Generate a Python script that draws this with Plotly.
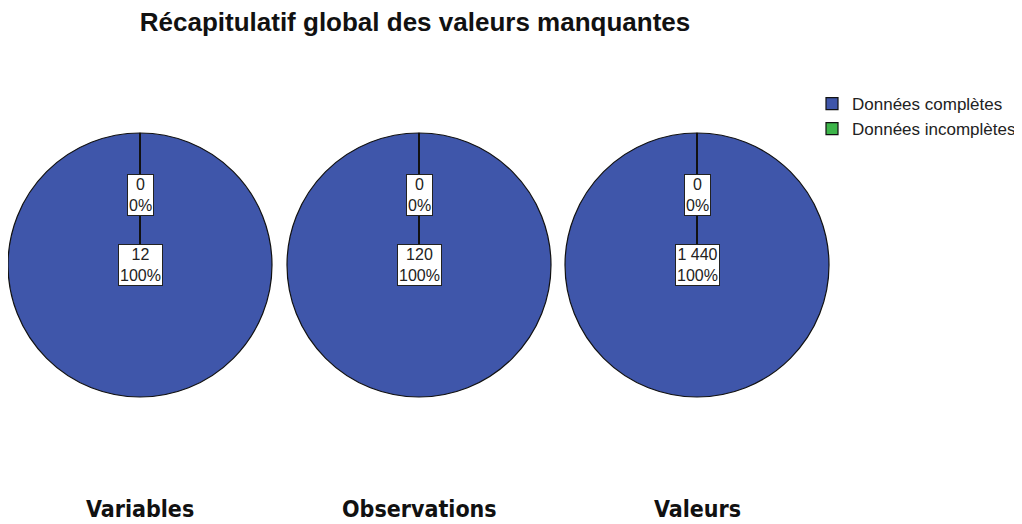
import plotly.graph_objects as go

title = "Récapitulatif global des valeurs manquantes"
groups = ["Variables", "Observations", "Valeurs"]
categories = ["Données complètes", "Données incomplètes"]
complete = [12, 120, 1440]
incomplete = [0, 0, 0]
colors = ["#3F56AA", "#3DB54A"]

W, H = 1022, 524
OFF = 8  # default page body margin
centers_px = [140, 419, 697]
cy_px = 265
r_px = 132

def px(x):
    return min(max((x - OFF) / W, 0), 1)

def py(y):
    return min(max(1 - (y - OFF) / H, 0), 1)

def fmt(v):
    return f"{v:,}".replace(",", " ")

fig = go.Figure()
for i, g in enumerate(groups):
    cx = centers_px[i]
    fig.add_trace(go.Pie(
        labels=categories,
        values=[complete[i], incomplete[i]],
        marker=dict(colors=colors, line=dict(color="#111111", width=1.2)),
        textinfo="none", hoverinfo="label+value+percent",
        sort=False, direction="clockwise", rotation=0,
        domain=dict(x=[px(cx - r_px), px(cx + r_px)], y=[py(cy_px + r_px), py(cy_px - r_px)]),
        showlegend=(i == 0), name=g,
    ))
    xc = px(cx)
    ytop = py(cy_px - r_px)
    ycen = py(cy_px)
    # zero-width slice boundary line
    fig.add_shape(type="line", xref="paper", yref="paper",
                  x0=xc, x1=xc, y0=ytop, y1=ycen,
                  line=dict(color="#111111", width=2))
    tot = complete[i] + incomplete[i]
    vals = [incomplete[i], complete[i]]
    ys = [py(195), ycen]
    for v, yy in zip(vals, ys):
        pct = round(100 * v / tot)
        fig.add_annotation(x=xc, y=yy, xref="paper", yref="paper",
                           xanchor="center", yanchor="middle",
                           text=f"{fmt(v)}<br>{pct}%", showarrow=False,
                           font=dict(family="Liberation Sans, Arial", size=16, color="#222222"),
                           bgcolor="white", bordercolor="#222222", borderwidth=1, borderpad=1,
                           align="center")
    fig.add_annotation(x=xc, y=py(509), xref="paper", yref="paper",
                       xanchor="center", yanchor="middle",
                       text=f"<b>{g}</b>", showarrow=False,
                       font=dict(family="DejaVu Sans Condensed, DejaVu Sans", size=23, color="#111111"))

fig.update_layout(
    width=W, height=H,
    margin=dict(l=0, r=0, t=0, b=0),
    paper_bgcolor="white", plot_bgcolor="white",
    title=dict(text=f"<b>{title}</b>", x=px(415), xanchor="center", y=py(22), yanchor="middle",
               font=dict(family="Liberation Sans, Arial", size=26, color="#111111")),
    legend=dict(x=px(812), y=py(86), xanchor="left", yanchor="top",
                font=dict(family="Liberation Sans, Arial", size=17, color="#222222"),
                itemwidth=30, tracegroupgap=0, bgcolor="rgba(0,0,0,0)"),
)

fig.write_html("out.html")
